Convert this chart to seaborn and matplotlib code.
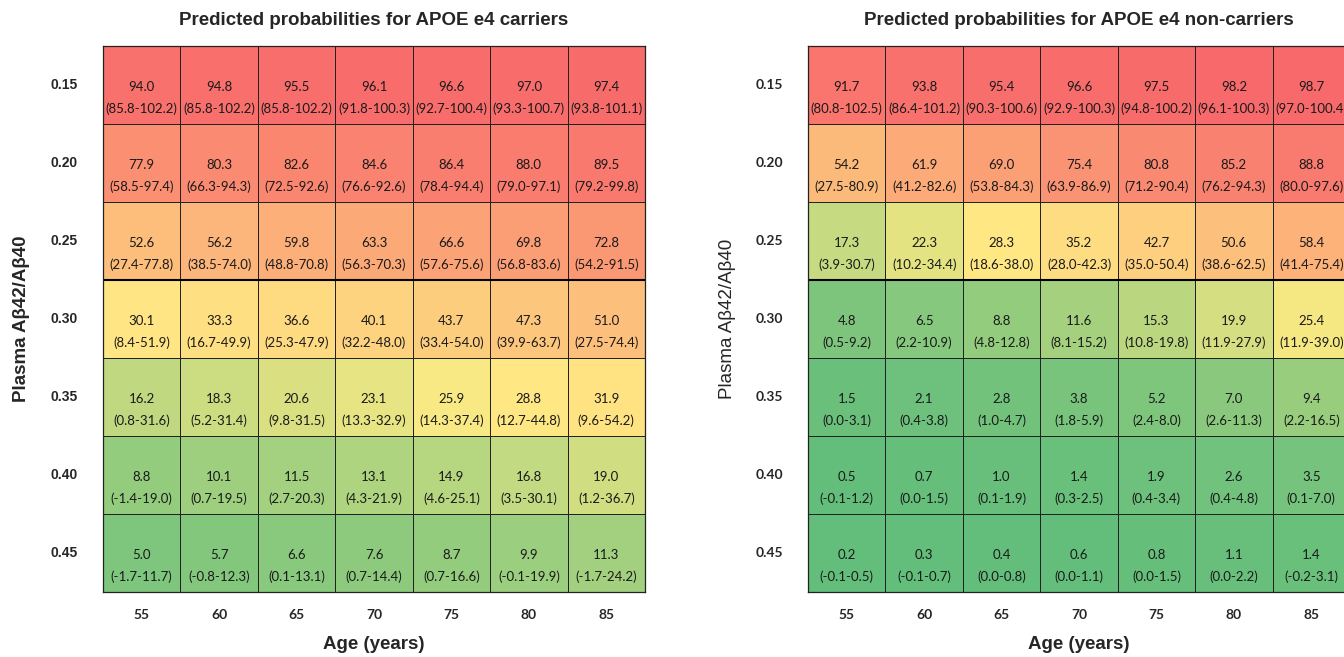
import numpy as np
import pandas as pd
import seaborn as sns
import matplotlib.pyplot as plt
from matplotlib.colors import LinearSegmentedColormap, TwoSlopeNorm

ages = [55, 60, 65, 70, 75, 80, 85]
ratios = ['0.15', '0.20', '0.25', '0.30', '0.35', '0.40', '0.45']

carriers = [
    [94.0, 94.8, 95.5, 96.1, 96.6, 97.0, 97.4],
    [77.9, 80.3, 82.6, 84.6, 86.4, 88.0, 89.5],
    [52.6, 56.2, 59.8, 63.3, 66.6, 69.8, 72.8],
    [30.1, 33.3, 36.6, 40.1, 43.7, 47.3, 51.0],
    [16.2, 18.3, 20.6, 23.1, 25.9, 28.8, 31.9],
    [8.8, 10.1, 11.5, 13.1, 14.9, 16.8, 19.0],
    [5.0, 5.7, 6.6, 7.6, 8.7, 9.9, 11.3],
]
carriers_ci = [
    ['85.8-102.2', '85.8-102.2', '85.8-102.2', '91.8-100.3', '92.7-100.4', '93.3-100.7', '93.8-101.1'],
    ['58.5-97.4', '66.3-94.3', '72.5-92.6', '76.6-92.6', '78.4-94.4', '79.0-97.1', '79.2-99.8'],
    ['27.4-77.8', '38.5-74.0', '48.8-70.8', '56.3-70.3', '57.6-75.6', '56.8-83.6', '54.2-91.5'],
    ['8.4-51.9', '16.7-49.9', '25.3-47.9', '32.2-48.0', '33.4-54.0', '39.9-63.7', '27.5-74.4'],
    ['0.8-31.6', '5.2-31.4', '9.8-31.5', '13.3-32.9', '14.3-37.4', '12.7-44.8', '9.6-54.2'],
    ['-1.4-19.0', '0.7-19.5', '2.7-20.3', '4.3-21.9', '4.6-25.1', '3.5-30.1', '1.2-36.7'],
    ['-1.7-11.7', '-0.8-12.3', '0.1-13.1', '0.7-14.4', '0.7-16.6', '-0.1-19.9', '-1.7-24.2'],
]

noncarriers = [
    [91.7, 93.8, 95.4, 96.6, 97.5, 98.2, 98.7],
    [54.2, 61.9, 69.0, 75.4, 80.8, 85.2, 88.8],
    [17.3, 22.3, 28.3, 35.2, 42.7, 50.6, 58.4],
    [4.8, 6.5, 8.8, 11.6, 15.3, 19.9, 25.4],
    [1.5, 2.1, 2.8, 3.8, 5.2, 7.0, 9.4],
    [0.5, 0.7, 1.0, 1.4, 1.9, 2.6, 3.5],
    [0.2, 0.3, 0.4, 0.6, 0.8, 1.1, 1.4],
]
noncarriers_ci = [
    ['80.8-102.5', '86.4-101.2', '90.3-100.6', '92.9-100.3', '94.8-100.2', '96.1-100.3', '97.0-100.4'],
    ['27.5-80.9', '41.2-82.6', '53.8-84.3', '63.9-86.9', '71.2-90.4', '76.2-94.3', '80.0-97.6'],
    ['3.9-30.7', '10.2-34.4', '18.6-38.0', '28.0-42.3', '35.0-50.4', '38.6-62.5', '41.4-75.4'],
    ['0.5-9.2', '2.2-10.9', '4.8-12.8', '8.1-15.2', '10.8-19.8', '11.9-27.9', '11.9-39.0'],
    ['0.0-3.1', '0.4-3.8', '1.0-4.7', '1.8-5.9', '2.4-8.0', '2.6-11.3', '2.2-16.5'],
    ['-0.1-1.2', '0.0-1.5', '0.1-1.9', '0.3-2.5', '0.4-3.4', '0.4-4.8', '0.1-7.0'],
    ['-0.1-0.5', '-0.1-0.7', '0.0-0.8', '0.0-1.1', '0.0-1.5', '0.0-2.2', '-0.2-3.1'],
]

# excel style 3-colour scale over both tables, midpoint at 50th percentile
all_vals = np.array(carriers + noncarriers).ravel()
norm = TwoSlopeNorm(vmin=all_vals.min(), vcenter=np.percentile(all_vals, 50), vmax=all_vals.max())
cmap = LinearSegmentedColormap.from_list('rag', ['#63BE7B', '#FFEB84', '#F8696B'])

sns.set_style('white')
fig = plt.figure(figsize=(13.44, 6.57), dpi=100)
ax1 = fig.add_axes([103 / 1344, 65 / 657, 542 / 1344, 546 / 657])
ax2 = fig.add_axes([808 / 1344, 65 / 657, 542 / 1344, 546 / 657])

panels = [
    (ax1, carriers, carriers_ci, 'Predicted probabilities for APOE e4 carriers', 'Liberation Sans', 'bold', -0.135),
    (ax2, noncarriers, noncarriers_ci, 'Predicted probabilities for APOE e4 non-carriers', 'Lato', 'normal', -0.133),
]

for ax, vals, cis, title, tick_font, ylab_weight, ylab_x in panels:
    df = pd.DataFrame(vals, index=ratios, columns=ages)
    sns.heatmap(df, cmap=cmap, norm=norm, cbar=False, linewidths=0.6,
                linecolor='#222222', ax=ax)
    for i in range(len(ratios)):
        for j in range(len(ages)):
            ax.text(j + 0.5, i + 0.52, f'{vals[i][j]:.1f}', ha='center', va='center',
                    fontsize=9.5, family='Lato', color='#1a1a1a')
            ax.text(j + 0.5, i + 0.8, f'({cis[i][j]})', ha='center', va='center',
                    fontsize=9.5, family='Lato', color='#1a1a1a')
    ax.axhline(3, color='black', lw=1.5)
    for s in ax.spines.values():
        s.set_visible(True)
        s.set_color('#222222')
        s.set_linewidth(0.9)
    ax.tick_params(length=0)
    ax.tick_params(axis='y', pad=18)
    ax.tick_params(axis='x', pad=12)
    ax.set_yticklabels(ratios, rotation=0, fontsize=10, fontweight='bold', family=tick_font)
    ax.set_xticklabels(ages, fontsize=10, fontweight='bold', family='Lato')
    ax.set_title(title, fontsize=13.5, fontweight='bold', family='Liberation Sans', pad=15)
    ax.set_xlabel('Age (years)', fontsize=13.5, fontweight='bold', family='Liberation Sans')
    ax.set_ylabel('Plasma Aβ42/Aβ40', fontsize=13.5, fontweight=ylab_weight, family='Liberation Sans')
    ax.xaxis.set_label_coords(0.5, -0.08)
    ax.yaxis.set_label_coords(ylab_x, 0.5)

fig.savefig('out.png', dpi=100)
